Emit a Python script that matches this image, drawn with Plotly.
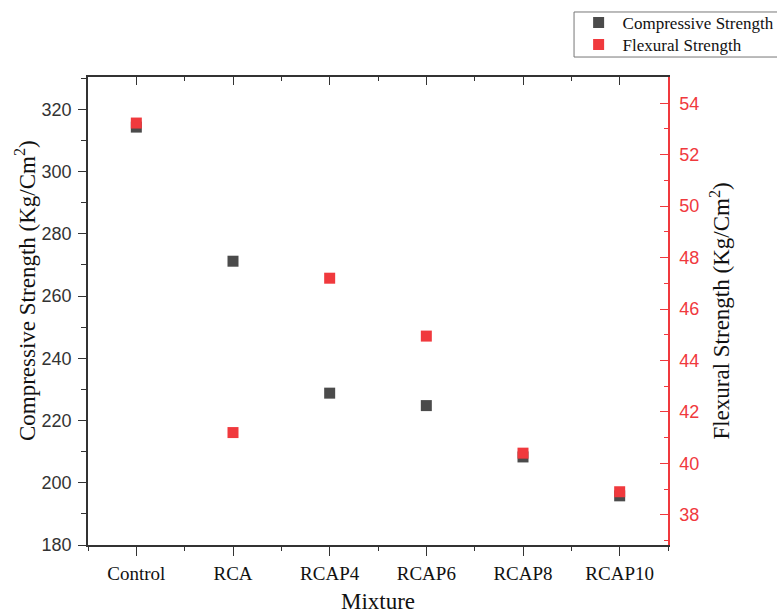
import plotly.graph_objects as go

categories = ["Control", "RCA", "RCAP4", "RCAP6", "RCAP8", "RCAP10"]
compressive = [314.3, 271.2, 228.8, 224.8, 208.3, 195.8]
flexural = [53.23, 41.2, 47.2, 44.95, 40.4, 38.9]
left_ticks = [180, 200, 220, 240, 260, 280, 300, 320]
right_ticks = [38, 40, 42, 44, 46, 48, 50, 52, 54]

xpos = list(range(len(categories)))
DARK = "#4b4b4b"
RED = "#f0393d"
AXIS = "#333333"
SERIF = "Liberation Serif"
SANS = "Liberation Sans"

fig = go.Figure()
fig.add_trace(go.Scatter(
    x=xpos, y=compressive, mode="markers", name="Compressive Strength",
    marker=dict(symbol="square", size=11, color=DARK), yaxis="y", xaxis="x",
    legend="legend"))
fig.add_trace(go.Scatter(
    x=xpos, y=flexural, mode="markers", name="Flexural Strength",
    marker=dict(symbol="square", size=11, color=RED), yaxis="y2", xaxis="x",
    legend="legend2"))

xr = [-0.5, len(categories) - 0.5]

leg_common = dict(
    x=0.839, xanchor="left", yanchor="middle",
    borderwidth=0, bgcolor="rgba(0,0,0,0)",
    font=dict(family=SERIF, size=17, color="#111111"),
    itemwidth=38,
)

fig.update_layout(
    width=777, height=614,
    margin=dict(l=88, r=109, t=77, b=69, autoexpand=False),
    paper_bgcolor="white", plot_bgcolor="white",
    showlegend=True,
    legend=dict(y=1.1154, **leg_common),
    legend2=dict(y=1.0684, **leg_common),
    shapes=[dict(type="rect", xref="paper", yref="paper",
                 x0=0.838, x1=1.3, y0=1.0427, y1=1.1389,
                 line=dict(color="#777777", width=1), fillcolor="rgba(0,0,0,0)",
                 layer="below")],
    xaxis=dict(
        range=xr, tickmode="array", tickvals=xpos, ticktext=categories,
        ticks="outside", ticklen=9, tickwidth=1.3, tickcolor=AXIS,
        showline=True, linecolor=AXIS, linewidth=1.5,
        showgrid=False, zeroline=False,
        tickfont=dict(family=SERIF, size=19, color="#111111"),
        ticklabelstandoff=1,
        minor=dict(ticks="outside", ticklen=4, tick0=-0.5, dtick=1, tickcolor=AXIS, showgrid=False),
        title=dict(text="Mixture", font=dict(family=SERIF, size=23, color="#111111"), standoff=26),
    ),
    xaxis3=dict(
        overlaying="x", side="top", anchor="y", range=xr,
        tickmode="array", tickvals=xpos, showticklabels=False,
        ticks="inside", ticklen=8, tickwidth=1.3, tickcolor=AXIS,
        showline=True, linecolor=AXIS, linewidth=1.5,
        showgrid=False, zeroline=False,
        minor=dict(ticks="inside", ticklen=4, tick0=-0.5, dtick=1, tickcolor=AXIS, showgrid=False),
    ),
    yaxis=dict(
        range=[180, 330.4], tickmode="array", tickvals=left_ticks,
        ticks="outside", ticklen=8, tickwidth=1.3, tickcolor=AXIS,
        showline=True, linecolor=AXIS, linewidth=1.5,
        showgrid=False, zeroline=False,
        tickfont=dict(family=SANS, size=18, color="#333333"),
        ticklabelstandoff=3,
        minor=dict(ticks="outside", ticklen=5, tick0=180, dtick=10, tickcolor=AXIS, showgrid=False),
    ),
    yaxis2=dict(
        overlaying="y", side="right", anchor="x",
        range=[36.83, 55.02], tickmode="array", tickvals=right_ticks,
        ticks="inside", ticklen=8, tickwidth=1.3, tickcolor=RED,
        showline=True, linecolor=RED, linewidth=1.5,
        showgrid=False, zeroline=False,
        tickfont=dict(family=SANS, size=18, color=RED),
        ticklabelstandoff=6,
        minor=dict(ticks="inside", ticklen=4, tick0=38, dtick=1, tickcolor=RED, showgrid=False),
        title=dict(text="Flexural Strength (Kg/Cm<sup>2</sup>)",
                   font=dict(family=SERIF, size=23, color="#111111"), standoff=15),
    ),
    annotations=[dict(
        text="Compressive Strength (Kg/Cm<sup>2</sup>)", textangle=-90,
        xref="paper", yref="paper", x=0, y=0.5427, xanchor="center", yanchor="middle",
        xshift=-63, showarrow=False,
        font=dict(family=SERIF, size=23, color="#111111"),
    )],
)

# invisible trace to attach the mirrored top axis
fig.add_trace(go.Scatter(x=[xpos[0]], y=[compressive[0]], xaxis="x3", yaxis="y",
                         mode="markers", marker=dict(opacity=0), showlegend=False,
                         hoverinfo="skip"))

fig.write_html("out.html", config={"displayModeBar": False},
               post_script="document.body.style.margin='0';document.body.style.overflow='hidden';")
